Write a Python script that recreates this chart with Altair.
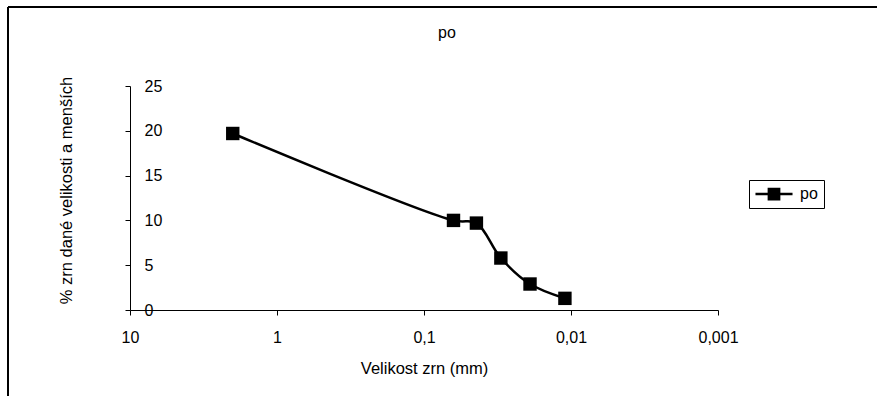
import altair as alt
import pandas as pd

# Data
sizes_mm = [2.0, 0.063, 0.044, 0.030, 0.019, 0.011]
percent_finer = [19.7, 10.0, 9.7, 5.8, 2.9, 1.3]
series = ["po"] * len(sizes_mm)

x_ticks = [10, 1, 0.1, 0.01, 0.001]
y_ticks = [0, 5, 10, 15, 20, 25]

chart_title = "po"
x_title = "Velikost zrn (mm)"
y_title = "% zrn dané velikosti a menších"

df = pd.DataFrame({"size": sizes_mm, "pct": percent_finer, "series": series})

FONT = "Liberation Sans"
W, H = 588, 224
PL, PT = 130, 86

x_enc = alt.X(
    "size:Q",
    scale=alt.Scale(type="log", domain=[0.001, 10], reverse=True, nice=False),
    axis=alt.Axis(
        values=x_ticks,
        labelExpr="replace(toString(datum.value), '.', ',')",
        grid=False,
        tickSize=5,
        tickColor="black",
        domainColor="black",
        labelColor="black",
        labelFont=FONT,
        labelFontSize=16,
        labelBaseline="middle",
        labelPadding=22,
        labelFlush=False,
        labelOverlap=False,
        title=x_title,
        titleFont=FONT,
        titleFontSize=16.5,
        titleFontWeight="normal",
        titleColor="black",
        titleBaseline="middle",
        titleAnchor="middle",
        titleY=58,
    ),
)
y_enc = alt.Y(
    "pct:Q",
    scale=alt.Scale(domain=[0, 25], nice=False),
    axis=alt.Axis(
        values=y_ticks,
        grid=False,
        tickSize=5,
        tickColor="black",
        domainColor="black",
        labelColor="black",
        labelFont=FONT,
        labelFontSize=16,
        labelAlign="left",
        labelPadding=-19,
        labelFlush=False,
        labelOverlap=False,
        title=y_title,
        titleFont=FONT,
        titleFontSize=16.5,
        titleFontWeight="normal",
        titleColor="black",
        titleAngle=-90,
        titleAlign="center",
        titleBaseline="middle",
        titleX=-64,
        titleY=104,
    ),
)

line = alt.Chart(df).mark_line(
    interpolate="catmull-rom", color="black", strokeWidth=2.5
).encode(x=x_enc, y=y_enc)

legend_path = "M-2.47,-0.16H2.47V0.16H-2.47ZM-0.85,-0.85H0.85V0.85H-0.85Z"
points = alt.Chart(df).mark_point(
    shape="square", filled=True, size=180, opacity=1
).encode(
    x=x_enc,
    y=y_enc,
    color=alt.Color(
        "series:N",
        scale=alt.Scale(range=["black"]),
        legend=alt.Legend(
            title=None,
            orient="none",
            legendX=619,
            legendY=94,
            symbolType=legend_path,
            symbolSize=225,
            symbolStrokeWidth=0,
            symbolOpacity=1,
            symbolOffset=11,
            labelOffset=18,
            labelFont=FONT,
            labelFontSize=16,
            labelColor="black",
            padding=6,
            strokeColor="black",
            fillColor="white",
        ),
    ),
)

frame_data = alt.Data(values=[{"k": 0}])
border_left = alt.Chart(frame_data).mark_rule(color="black", strokeWidth=2).encode(
    x=alt.value(8 - PL), y=alt.value(7 - PT), y2=alt.value(400 - PT)
)
border_top = alt.Chart(frame_data).mark_rule(color="black", strokeWidth=2).encode(
    x=alt.value(8 - PL), x2=alt.value(880 - PL), y=alt.value(7 - PT)
)

title_text = alt.Chart(alt.Data(values=[{"t": chart_title}])).mark_text(
    font=FONT, fontSize=16, color="black", baseline="alphabetic", align="center"
).encode(text="t:N", x=alt.value(447 - PL), y=alt.value(38 - PT))

chart = alt.layer(border_left, border_top, title_text, line, points).properties(
    width=W,
    height=H,
    padding={"left": PL, "top": PT, "right": 877 - PL - W, "bottom": 396 - PT - H},
    autosize=alt.AutoSizeParams(type="none"),
    background="white",
).configure_view(stroke=None)

chart.save("out.html", embed_options={"renderer": "svg", "actions": False})
